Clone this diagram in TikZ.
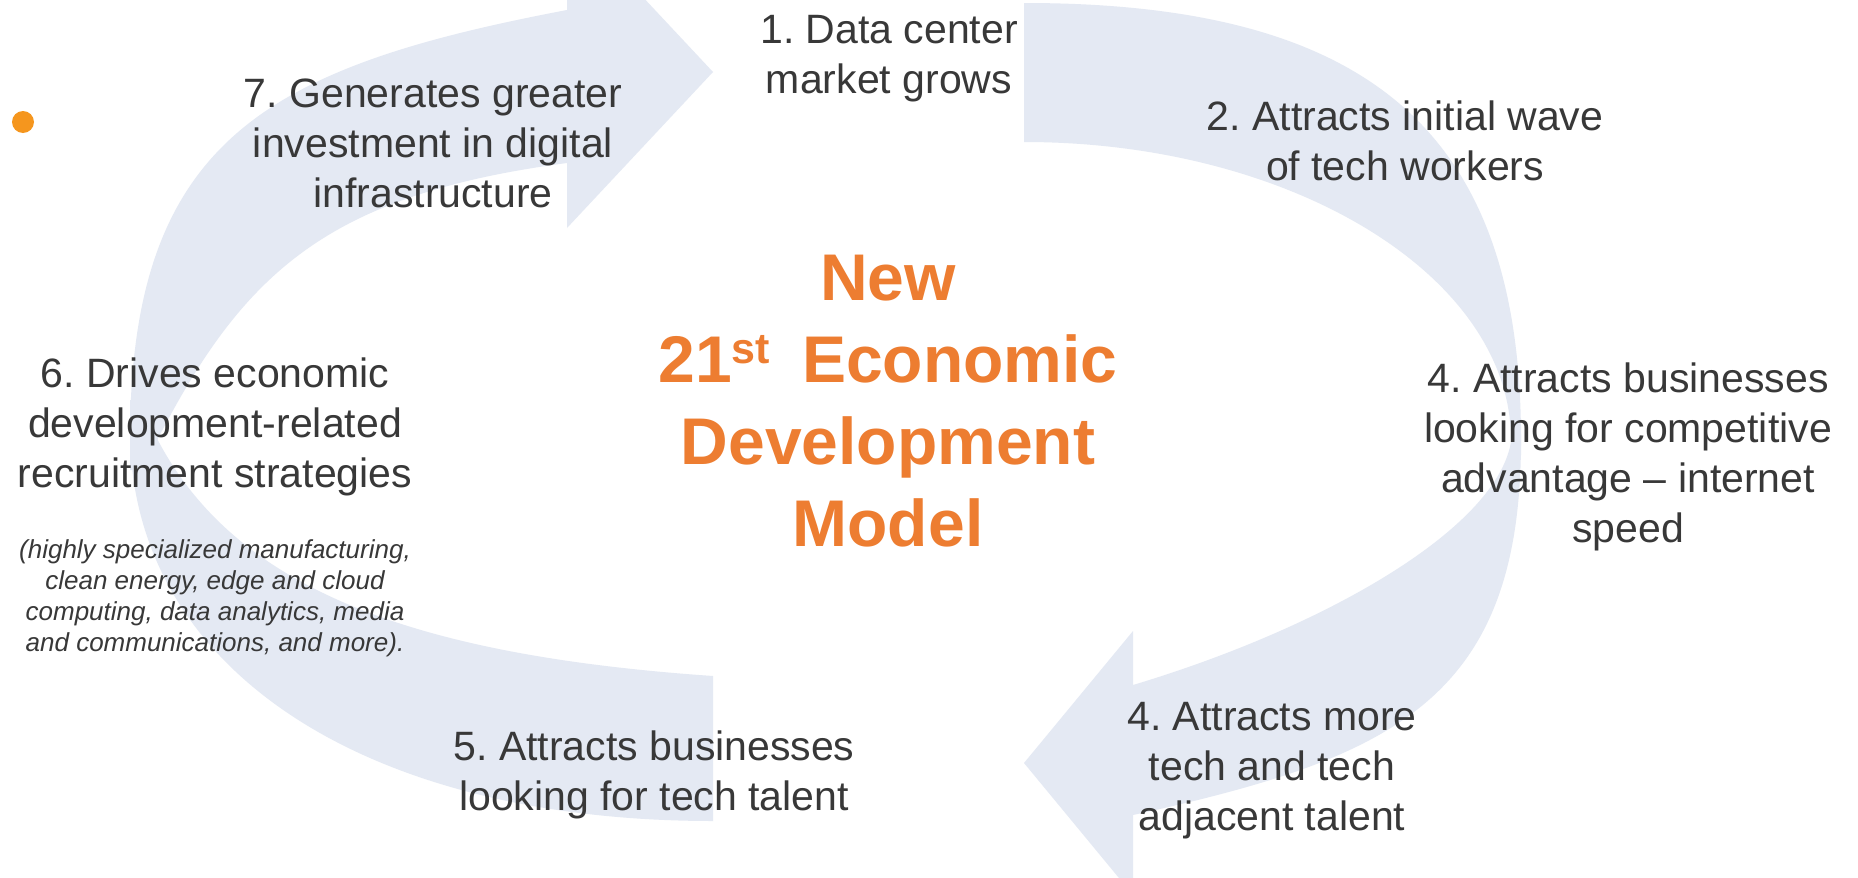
\documentclass[tikz,border=0pt]{standalone}
\usepackage{fontspec}
\setmainfont{Liberation Sans}
\frenchspacing
\definecolor{arrowfill}{RGB}{228,233,243}
\definecolor{labeltext}{RGB}{56,56,56}
\definecolor{titleorange}{RGB}{237,125,49}
\definecolor{dotorange}{RGB}{245,150,30}
\newcommand\mainlinetop{\rule{0pt}{20pt}}
\newcommand\notelinetop{\rule{0pt}{13pt}}
\newcommand\titlelinetop{\rule{0pt}{30pt}}
\newcommand\ordinalst{\raisebox{9.5pt}{\fontsize{21.5}{21.5}\selectfont st}}
\begin{document}
\begin{tikzpicture}[x=0.5pt,y=-0.5pt,
  band/.style={fill=arrowfill},
  steplabel/.style={anchor=north, inner sep=0pt, align=center, text=labeltext,
    font=\fontsize{20.5}{25}\selectfont},
  notelabel/.style={anchor=north, inner sep=0pt, align=center, text=labeltext,
    font=\fontsize{13}{15.5}\selectfont\itshape},
  titlelabel/.style={anchor=north, inner sep=0pt, align=center, text=titleorange,
    font=\fontsize{33}{41}\selectfont\bfseries}]
\useasboundingbox (0,0) rectangle (1858,878);
\clip (0,0) rectangle (1858,878);
\fill[white] (0,0) rectangle (1858,878);

% top-left arrow (7 -> 1)
\fill[band] (567,163) -- (567,228) -- (713,72) -- (567,-84) -- (567,10)
  .. controls (267,67) and (130,140) .. (130,440)
  -- (130,470) -- (145,470) -- (147,460)
  .. controls (237,280) and (317,196) .. (567,163)
  -- cycle;

% bottom-left arc
\fill[band] (713,676) -- (713,821)
  .. controls (363,821) and (130,668) .. (130,430)
  -- (130,400) -- (146,400) -- (148,420)
  .. controls (220,580) and (393,654) .. (713,676)
  -- cycle;

% top-right arc
\fill[band] (1024,142) -- (1024,3)
  .. controls (1372,3) and (1521,134) .. (1521,440)
  -- (1521,455) -- (1511,455) -- (1511,440)
  .. controls (1511,276) and (1292,142) .. (1024,142)
  -- cycle;

% bottom-right arrow (4 -> 4)
\fill[band] (1133,685) -- (1133,631) -- (1024,763) -- (1133,895) -- (1133,815)
  .. controls (1393,758) and (1521,700) .. (1521,440)
  -- (1521,425) -- (1512,425) -- (1512,430)
  .. controls (1512,520) and (1333,625) .. (1133,685)
  -- cycle;

% orange dot
\node[circle, fill=dotorange, minimum size=11pt, inner sep=0pt] (dot) at (23,122) {};

% labels
\node[steplabel] (s1) at (889,3) {\mainlinetop 1. Data center\\market grows};
\node[steplabel] (s2) at (1405,90) {\mainlinetop 2. Attracts initial wave\\of tech workers};
\node[steplabel] (s4a) at (1628,352) {\mainlinetop 4. Attracts businesses\\looking for competitive\\advantage – internet\\speed};
\node[steplabel] (s4b) at (1272,690) {\mainlinetop 4. Attracts more\\tech and tech\\adjacent talent};
\node[steplabel] (s5) at (654,720) {\mainlinetop 5. Attracts businesses\\looking for tech talent};
\node[steplabel] (s6) at (215,347) {\mainlinetop 6. Drives economic\\development-related\\recruitment strategies};
\node[notelabel] (s6note) at (215,532) {\notelinetop (highly specialized manufacturing,\\clean energy, edge and cloud\\computing, data analytics, media\\and communications, and more).};
\node[steplabel] (s7) at (433,67) {\mainlinetop 7. Generates greater\\investment in digital\\infrastructure};

\node[titlelabel] (title) at (888,240) {\titlelinetop New\\21\ordinalst\hspace{16pt}Economic\\Development\\Model};
\end{tikzpicture}
\end{document}
